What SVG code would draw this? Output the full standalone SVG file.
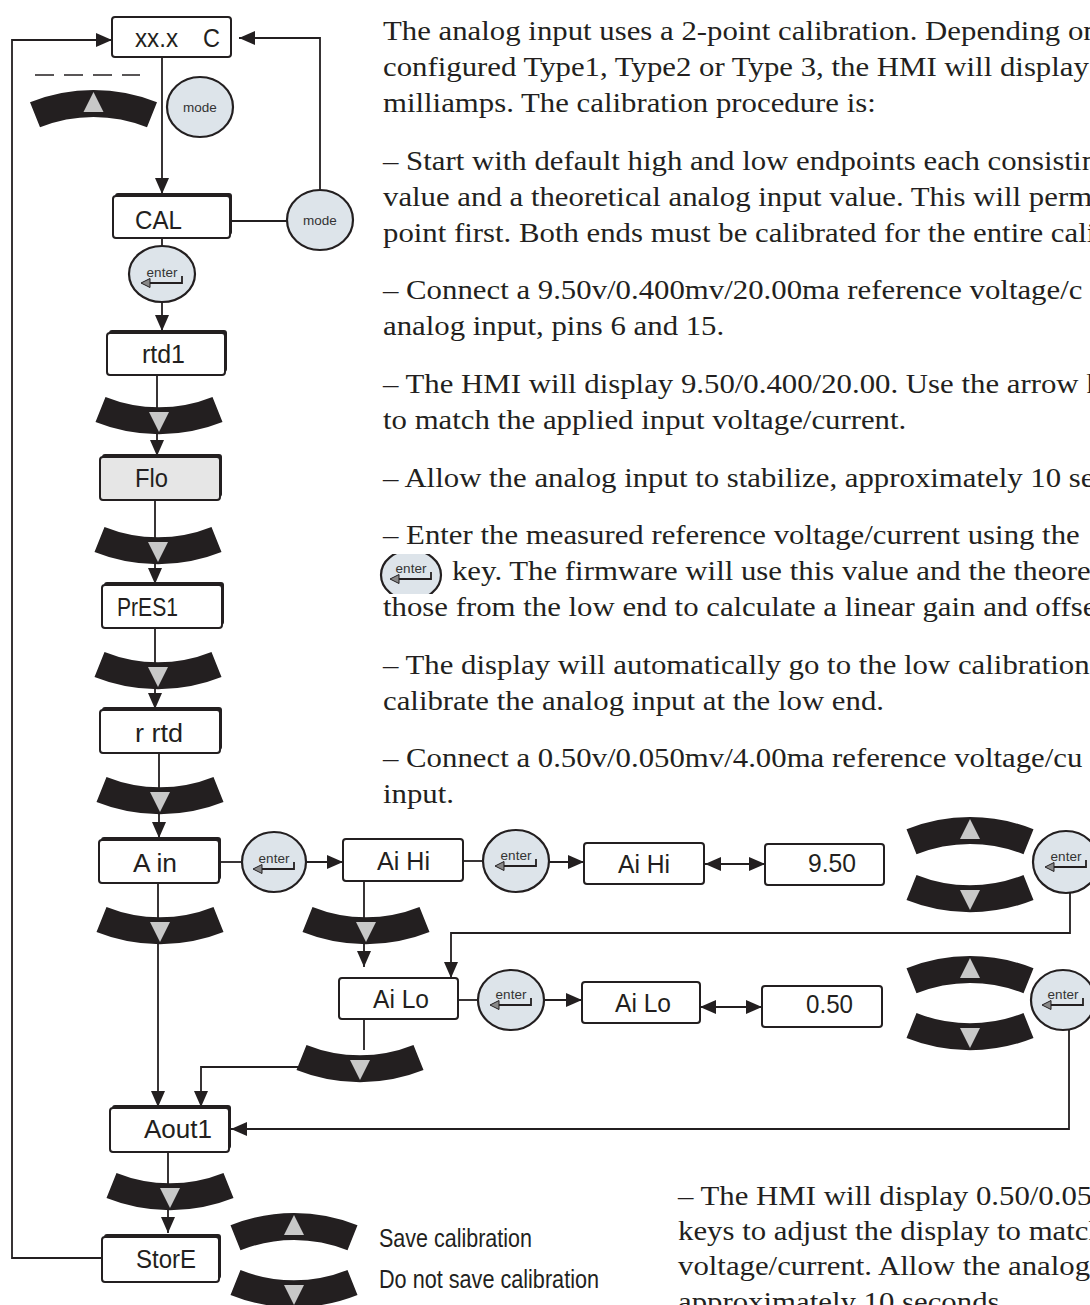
<svg xmlns="http://www.w3.org/2000/svg" width="1090" height="1305" viewBox="0 0 1090 1305">
<style>
.box{fill:#fff;stroke:#231f20;stroke-width:2}
.shadow{fill:#231f20}
.lbl{font-family:"Liberation Sans",Arial,sans-serif;font-size:25px;fill:#231f20}
.key{fill:#231f20}
.tri{fill:#c8c8c8}
.btn{fill:#dde4ea;stroke:#231f20;stroke-width:2.2}
.btxt{font-family:"Liberation Sans",Arial,sans-serif;font-size:13.5px;fill:#333;text-anchor:middle}
.ln{fill:none;stroke:#231f20;stroke-width:1.8}
.arr{marker-end:url(#ah)}
.body{font-family:"Liberation Serif","Times New Roman",serif;font-size:27.5px;fill:#231f20}
.cond{font-family:"Liberation Sans",Arial,sans-serif;font-size:26px;fill:#231f20}
</style>
<defs>
<marker id="ah" markerUnits="userSpaceOnUse" markerWidth="16" markerHeight="14" refX="16" refY="7" orient="auto-start-reverse">
<path d="M0,0 L16,7 L0,14 Z" fill="#231f20"/>
</marker>
<g id="keyUp">
<path class="key" d="M -63.5,12.3 A 171 171 0 0 1 63.5,12.3 L 53.5,37.3 A 144 144 0 0 0 -53.5,37.3 Z"/>
<path class="tri" d="M 0,2 L 10,22 L -10,22 Z"/>
</g>
<g id="keyDn">
<path class="key" d="M -53.5,0 A 144 144 0 0 0 53.5,0 L 63.5,25 A 171 171 0 0 1 -63.5,25 Z"/>
<path class="tri" d="M -10,15 L 10,15 L 0,35 Z"/>
</g>
<g id="enterGlyph">
<text class="btxt" x="0" y="3">enter</text>
<path d="M -13,9 H 20 V 2" fill="none" stroke="#231f20" stroke-width="1.8"/>
<path d="M -21,9 L -12,4.5 L -12,13.5 Z" fill="#888" stroke="#231f20" stroke-width="1"/>
</g>
<clipPath id="iconClip"><rect x="370" y="554" width="85" height="40"/></clipPath>
</defs>

<g id="connectors">
<polyline class="ln arr" points="102,1258 12,1258 12,40 112,40"/>
<polyline class="ln arr" points="320,190 320,38 239,38"/>
<line class="ln arr" x1="162" y1="57" x2="162" y2="194"/>
<line class="ln" x1="230" y1="221" x2="288" y2="221"/>
<line class="ln" x1="162" y1="238" x2="162" y2="247"/>
<line class="ln arr" x1="162" y1="302" x2="162" y2="331"/>
<line class="ln arr" x1="157" y1="375" x2="157" y2="456"/>
<line class="ln arr" x1="155" y1="500" x2="155" y2="584"/>
<line class="ln arr" x1="155" y1="628" x2="155" y2="709"/>
<line class="ln arr" x1="159" y1="753" x2="159" y2="838"/>
<line class="ln" x1="219" y1="862" x2="242" y2="862"/>
<line class="ln arr" x1="306" y1="862" x2="343" y2="862"/>
<line class="ln" x1="463" y1="861" x2="483" y2="861"/>
<line class="ln arr" x1="549" y1="862" x2="584" y2="862"/>
<line class="ln arr" x1="705" y1="864" x2="765" y2="864" marker-start="url(#ah)"/>
<polyline class="ln arr" points="1070,893 1070,933 451,933 451,978"/>
<line class="ln arr" x1="364" y1="881" x2="364" y2="967"/>
<line class="ln arr" x1="158" y1="883" x2="158" y2="1107"/>
<line class="ln" x1="364" y1="1019" x2="364" y2="1050"/>
<polyline class="ln arr" points="300,1067 201,1067 201,1107"/>
<line class="ln" x1="458" y1="1000" x2="478" y2="1000"/>
<line class="ln arr" x1="544" y1="1000" x2="582" y2="1000"/>
<line class="ln arr" x1="700" y1="1007" x2="762" y2="1007" marker-start="url(#ah)"/>
<polyline class="ln arr" points="1069,1030 1069,1129 231,1129"/>
<line class="ln arr" x1="168" y1="1152" x2="168" y2="1233"/>
<line x1="35" y1="75" x2="140" y2="75" stroke="#231f20" stroke-width="1.5" stroke-dasharray="19 10"/>
</g>

<g id="keys">
<use href="#keyUp" x="93.5" y="90"/>
<use href="#keyDn" x="159" y="397"/>
<use href="#keyDn" x="158" y="527"/>
<use href="#keyDn" x="158" y="652"/>
<use href="#keyDn" x="160" y="777"/>
<use href="#keyDn" x="160" y="907"/>
<use href="#keyDn" x="366" y="907"/>
<use href="#keyDn" x="360" y="1045"/>
<use href="#keyDn" x="170" y="1173"/>
<use href="#keyUp" x="294" y="1213"/>
<use href="#keyDn" x="294" y="1270"/>
<use href="#keyUp" x="970" y="817"/>
<use href="#keyDn" x="970" y="875"/>
<use href="#keyUp" x="970" y="956"/>
<use href="#keyDn" x="970" y="1013"/>
</g>

<g id="node-xx">
<rect class="box" x="112" y="17" width="119" height="40" rx="3"/>
<text class="lbl" x="135" y="47" textLength="43" lengthAdjust="spacingAndGlyphs">xx.x</text>
<text class="lbl" x="203" y="47" textLength="17" lengthAdjust="spacingAndGlyphs">C</text>
</g>
<g id="btn-mode1">
<ellipse class="btn" cx="200" cy="107" rx="33" ry="30"/>
<text class="btxt" x="200" y="112">mode</text>
</g>
<g id="node-cal">
<rect class="shadow" x="115" y="193" width="117" height="42" rx="3"/>
<rect class="box" x="113" y="196" width="117" height="42" rx="3"/>
<text class="lbl" x="135" y="229" textLength="47" lengthAdjust="spacingAndGlyphs">CAL</text>
</g>
<g id="btn-mode2">
<ellipse class="btn" cx="320" cy="220" rx="33" ry="30"/>
<text class="btxt" x="320" y="225">mode</text>
</g>
<g id="btn-enter1">
<ellipse class="btn" cx="162" cy="274" rx="33" ry="28"/>
<use href="#enterGlyph" x="162" y="274"/>
</g>
<g id="node-rtd1">
<rect class="shadow" x="109" y="330" width="118" height="42" rx="3"/>
<rect class="box" x="107" y="333" width="118" height="42" rx="3"/>
<text class="lbl" x="142" y="363" textLength="43" lengthAdjust="spacingAndGlyphs">rtd1</text>
</g>
<g id="node-flo">
<rect class="shadow" x="102" y="454" width="120" height="43" rx="3"/>
<rect class="box" x="100" y="457" width="120" height="43" rx="3" style="fill:#e6e6e6"/>
<text class="lbl" x="135" y="487" textLength="33" lengthAdjust="spacingAndGlyphs">Flo</text>
</g>
<g id="node-pres1">
<rect class="shadow" x="104" y="582" width="120" height="43" rx="3"/>
<rect class="box" x="102" y="585" width="120" height="43" rx="3"/>
<text class="lbl" x="117" y="616" textLength="61" lengthAdjust="spacingAndGlyphs">PrES1</text>
</g>
<g id="node-rrtd">
<rect class="shadow" x="102" y="707" width="120" height="43" rx="3"/>
<rect class="box" x="100" y="710" width="120" height="43" rx="3"/>
<text class="lbl" x="135" y="742" textLength="48" lengthAdjust="spacingAndGlyphs">r rtd</text>
</g>
<g id="node-ain">
<rect class="shadow" x="101" y="837" width="120" height="43" rx="3"/>
<rect class="box" x="99" y="840" width="120" height="43" rx="3"/>
<text class="lbl" x="133" y="872" textLength="44" lengthAdjust="spacingAndGlyphs">A in</text>
</g>
<g id="btn-enter2">
<ellipse class="btn" cx="274" cy="862" rx="32" ry="30"/>
<use href="#enterGlyph" x="274" y="860"/>
</g>
<g id="node-aihi">
<rect class="box" x="343" y="839" width="120" height="42" rx="3"/>
<text class="lbl" x="377" y="870" textLength="53" lengthAdjust="spacingAndGlyphs">Ai Hi</text>
</g>
<g id="btn-enter3">
<ellipse class="btn" cx="516" cy="861" rx="33" ry="31"/>
<use href="#enterGlyph" x="516" y="857"/>
</g>
<g id="node-aihi2">
<rect class="box" x="584" y="843" width="120" height="41" rx="3"/>
<text class="lbl" x="618" y="873" textLength="52" lengthAdjust="spacingAndGlyphs">Ai Hi</text>
</g>
<g id="node-950">
<rect class="box" x="765" y="844" width="119" height="41" rx="3"/>
<text class="lbl" x="808" y="872" textLength="48" lengthAdjust="spacingAndGlyphs">9.50</text>
</g>
<g id="btn-enter4">
<ellipse class="btn" cx="1066" cy="862" rx="33" ry="31"/>
<use href="#enterGlyph" x="1066" y="858"/>
</g>
<g id="node-ailo">
<rect class="box" x="339" y="978" width="119" height="41" rx="3"/>
<text class="lbl" x="373" y="1008" textLength="56" lengthAdjust="spacingAndGlyphs">Ai Lo</text>
</g>
<g id="btn-enter5">
<ellipse class="btn" cx="511" cy="1000" rx="33" ry="30"/>
<use href="#enterGlyph" x="511" y="996"/>
</g>
<g id="node-ailo2">
<rect class="box" x="582" y="982" width="118" height="41" rx="3"/>
<text class="lbl" x="615" y="1012" textLength="56" lengthAdjust="spacingAndGlyphs">Ai Lo</text>
</g>
<g id="node-050">
<rect class="box" x="762" y="986" width="120" height="41" rx="3"/>
<text class="lbl" x="806" y="1013" textLength="47" lengthAdjust="spacingAndGlyphs">0.50</text>
</g>
<g id="btn-enter6">
<ellipse class="btn" cx="1063" cy="1000" rx="32" ry="30"/>
<use href="#enterGlyph" x="1063" y="996"/>
</g>
<g id="node-aout1">
<rect class="shadow" x="112" y="1105" width="119" height="44" rx="3"/>
<rect class="box" x="110" y="1108" width="119" height="44" rx="3"/>
<text class="lbl" x="144" y="1138" textLength="68" lengthAdjust="spacingAndGlyphs">Aout1</text>
</g>
<g id="node-store">
<rect class="shadow" x="104" y="1234" width="117" height="45" rx="3"/>
<rect class="box" x="102" y="1237" width="117" height="45" rx="3"/>
<text class="lbl" x="136" y="1268" textLength="60" lengthAdjust="spacingAndGlyphs">StorE</text>
</g>

<g id="legend">
<text class="cond" x="379" y="1247" textLength="153" lengthAdjust="spacingAndGlyphs">Save calibration</text>
<text class="cond" x="379" y="1288" textLength="220" lengthAdjust="spacingAndGlyphs">Do not save calibration</text>
</g>

<g id="inline-enter" clip-path="url(#iconClip)">
<ellipse class="btn" cx="411" cy="575" rx="30" ry="25"/>
<use href="#enterGlyph" x="411" y="570"/>
</g>

<g id="body-text" transform="matrix(1.12 0 0 1 -45.96 0)">
<text class="body" x="383" y="40">The analog input uses a 2-point calibration. Depending on</text>
<text class="body" x="383" y="76">configured Type1, Type2 or Type 3, the HMI will display e</text>
<text class="body" x="383" y="112">milliamps. The calibration procedure is:</text>
<text class="body" x="383" y="170">– Start with default high and low endpoints each consistin</text>
<text class="body" x="383" y="206">value and a theoretical analog input value. This will permit</text>
<text class="body" x="383" y="242">point first. Both ends must be calibrated for the entire cali</text>
<text class="body" x="383" y="299">– Connect a 9.50v/0.400mv/20.00ma reference voltage/c</text>
<text class="body" x="383" y="335">analog input, pins 6 and 15.</text>
<text class="body" x="383" y="393">– The HMI will display 9.50/0.400/20.00. Use the arrow k</text>
<text class="body" x="383" y="429">to match the applied input voltage/current.</text>
<text class="body" x="383" y="487">– Allow the analog input to stabilize, approximately 10 sec</text>
<text class="body" x="383" y="544">– Enter the measured reference voltage/current using the</text>
<text class="body" x="444.6" y="580">key. The firmware will use this value and the theore</text>
<text class="body" x="383" y="616">those from the low end to calculate a linear gain and offse</text>
<text class="body" x="383" y="674">– The display will automatically go to the low calibration r</text>
<text class="body" x="383" y="710">calibrate the analog input at the low end.</text>
<text class="body" x="383" y="767">– Connect a 0.50v/0.050mv/4.00ma reference voltage/cu</text>
<text class="body" x="383" y="803">input.</text>
</g>
<g id="body-text-2" transform="matrix(1.12 0 0 1 -81.36 0)">
<text class="body" x="678" y="1205">– The HMI will display 0.50/0.05</text>
<text class="body" x="678" y="1240">keys to adjust the display to match</text>
<text class="body" x="678" y="1275">voltage/current. Allow the analog</text>
<text class="body" x="678" y="1311">approximately 10 seconds.</text>
</g>
</svg>
